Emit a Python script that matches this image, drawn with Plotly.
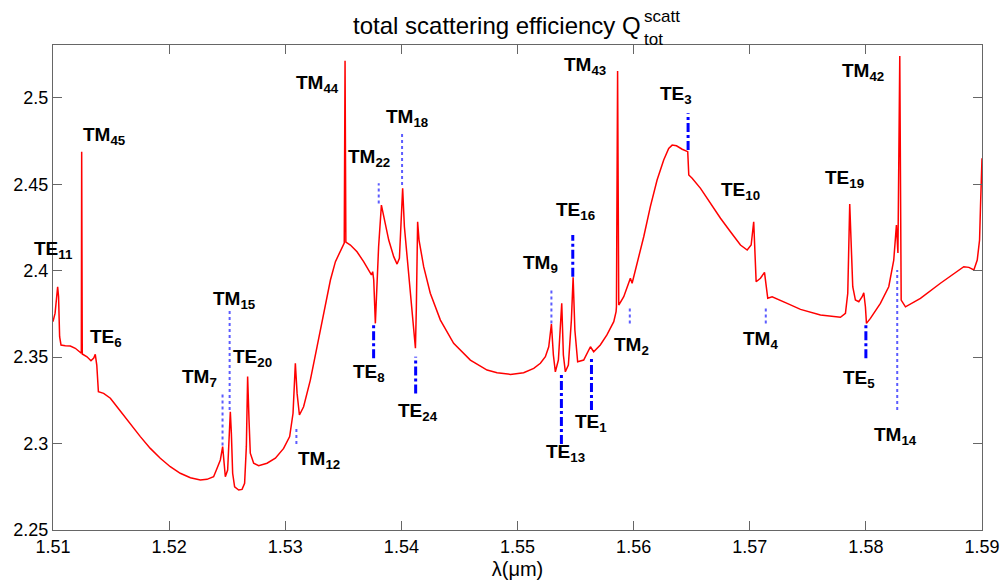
import plotly.graph_objects as go

# ---- curve: total scattering efficiency vs wavelength (um) ----
wavelength = [
    1.51000, 1.51018, 1.51040, 1.51048, 1.51057, 1.51069, 1.51106, 1.51149, 1.51192, 1.51244,
    1.51247, 1.51252, 1.51293, 1.51327, 1.51351, 1.51364, 1.51377, 1.51391, 1.51436, 1.51494,
    1.51551, 1.51637, 1.51752, 1.51838, 1.51924, 1.52010, 1.52096, 1.52183, 1.52269, 1.52326,
    1.52383, 1.52413, 1.52441, 1.52461, 1.52473, 1.52484, 1.52504, 1.52519, 1.52527, 1.52536,
    1.52547, 1.52564, 1.52599, 1.52628, 1.52650, 1.52665, 1.52676, 1.52688, 1.52699, 1.52728,
    1.52771, 1.52843, 1.52915, 1.52986, 1.53038, 1.53067, 1.53087, 1.53102, 1.53122, 1.53158,
    1.53216, 1.53274, 1.53331, 1.53389, 1.53432, 1.53475, 1.53508, 1.53515, 1.53522, 1.53561,
    1.53618, 1.53675, 1.53718, 1.53742, 1.53753, 1.53762, 1.53776, 1.53804, 1.53828, 1.53847,
    1.53891, 1.53934, 1.53963, 1.53983, 1.53997, 1.54011, 1.54026, 1.54049, 1.54077, 1.54106,
    1.54121, 1.54129, 1.54140, 1.54152, 1.54192, 1.54249, 1.54336, 1.54450, 1.54594, 1.54738,
    1.54824, 1.54939, 1.55053, 1.55140, 1.55197, 1.55240, 1.55269, 1.55292, 1.55309, 1.55326,
    1.55352, 1.55381, 1.55395, 1.55412, 1.55438, 1.55464, 1.55479, 1.55494, 1.55518, 1.55570,
    1.55628, 1.55656, 1.55713, 1.55770, 1.55829, 1.55849, 1.55852, 1.55862, 1.55872, 1.55915,
    1.55958, 1.55972, 1.55987, 1.56030, 1.56087, 1.56144, 1.56202, 1.56259, 1.56302, 1.56332,
    1.56369, 1.56418, 1.56455, 1.56466, 1.56475, 1.56504, 1.56576, 1.56662, 1.56748, 1.56834,
    1.56920, 1.56978, 1.57012, 1.57034, 1.57043, 1.57055, 1.57092, 1.57127, 1.57155, 1.57193,
    1.57322, 1.57437, 1.57609, 1.57781, 1.57824, 1.57844, 1.57861, 1.57876, 1.57887, 1.57910,
    1.57939, 1.57968, 1.57982, 1.57996, 1.58005, 1.58039, 1.58125, 1.58197, 1.58240, 1.58263,
    1.58276, 1.58292, 1.58304, 1.58341, 1.58470, 1.58642, 1.58786, 1.58843, 1.58887, 1.58930,
    1.58959, 1.58979, 1.58987, 1.59000,
]
q_scatt = [
    2.3705, 2.3754, 2.3907, 2.3849, 2.3618, 2.3570, 2.3566, 2.3564, 2.3551, 2.3522,
    2.4688, 2.3518, 2.3502, 2.3479, 2.3495, 2.3516, 2.3454, 2.3300, 2.3290, 2.3262,
    2.3213, 2.3136, 2.3040, 2.2972, 2.2915, 2.2866, 2.2828, 2.2802, 2.2789, 2.2793,
    2.2808, 2.2857, 2.2905, 2.2982, 2.2886, 2.2808, 2.2847, 2.3059, 2.3184, 2.3059,
    2.2828, 2.2750, 2.2731, 2.2735, 2.2770, 2.2982, 2.3387, 2.3136, 2.2944, 2.2886,
    2.2872, 2.2886, 2.2915, 2.2972, 2.3040, 2.3175, 2.3464, 2.3290, 2.3165, 2.3213,
    2.3367, 2.3560, 2.3753, 2.3946, 2.4052, 2.4119, 2.4160, 2.5214, 2.4165, 2.4148,
    2.4109, 2.4052, 2.4004, 2.3975, 2.3994, 2.3946, 2.3695, 2.4138, 2.4379, 2.4312,
    2.4177, 2.4081, 2.4038, 2.4071, 2.4254, 2.4476, 2.4254, 2.4081, 2.3888, 2.3657,
    2.3551, 2.3791, 2.4283, 2.4177, 2.4023, 2.3869, 2.3714, 2.3580, 2.3483, 2.3425,
    2.3410, 2.3400, 2.3410, 2.3435, 2.3464, 2.3502, 2.3560, 2.3691, 2.3512, 2.3415,
    2.3483, 2.3811, 2.3512, 2.3415, 2.3454, 2.3714, 2.3961, 2.3657, 2.3473, 2.3483,
    2.3560, 2.3531, 2.3570, 2.3628, 2.3705, 2.3763, 2.3791, 2.5154, 2.3801, 2.3849,
    2.3936, 2.3956, 2.3927, 2.4042, 2.4196, 2.4370, 2.4524, 2.4640, 2.4707, 2.4726,
    2.4722, 2.4702, 2.4694, 2.4688, 2.4553, 2.4534, 2.4476, 2.4389, 2.4303, 2.4225,
    2.4148, 2.4119, 2.4148, 2.4283, 2.4100, 2.3936, 2.3956, 2.3990, 2.3840, 2.3849,
    2.3811, 2.3776, 2.3743, 2.3730, 2.3753, 2.3869, 2.4385, 2.4080, 2.3907, 2.3830,
    2.3820, 2.3849, 2.3872, 2.3791, 2.3695, 2.3724, 2.3811, 2.3907, 2.4061, 2.4264,
    2.4102, 2.5241, 2.3830, 2.3791, 2.3840, 2.3927, 2.3994, 2.4023, 2.4019, 2.4004,
    2.4061, 2.4177, 2.4370, 2.4650,
]

# ---- TM resonance markers (dotted) ----
tm_names = ["TM7", "TM15", "TM12", "TM22", "TM18", "TM9", "TM2", "TM4", "TM14"]
tm_x = [1.52460, 1.52521, 1.53096, 1.53805, 1.54006, 1.55292, 1.55967, 1.57138, 1.58270]
tm_y0 = [2.2988, 2.3194, 2.2997, 2.4389, 2.4495, 2.3695, 2.3695, 2.3695, 2.3194]
tm_y1 = [2.3295, 2.3782, 2.3097, 2.4505, 2.4794, 2.3898, 2.3791, 2.3791, 2.4004]

# ---- TE resonance markers (dash-dot) ----
te_names = ["TE8", "TE24", "TE13", "TE1", "TE16", "TE3", "TE5"]
te_x = [1.53761, 1.54123, 1.55378, 1.55637, 1.55476, 1.56469, 1.58000]
te_y0 = [2.3493, 2.3290, 2.2997, 2.3194, 2.3965, 2.4698, 2.3493]
te_y1 = [2.3686, 2.3502, 2.3400, 2.3502, 2.4206, 2.4910, 2.3686]

# ---- mode labels: mode letters, mode index, anchor wavelength, anchor Q ----
label_mode = ["TE", "TM", "TM", "TM", "TE", "TE", "TM", "TM", "TM", "TM", "TE", "TE", "TE",
              "TE", "TM", "TM", "TE", "TM", "TE", "TE", "TM", "TE", "TM", "TE", "TM"]
label_index = ["11", "45", "44", "15", "6", "20", "7", "12", "22", "18", "8", "24", "13",
               "1", "2", "9", "16", "43", "3", "10", "4", "19", "42", "5", "14"]
label_x = [1.51001, 1.51442, 1.53277, 1.52562, 1.51459, 1.52717, 1.52260, 1.53294, 1.53724,
           1.54051, 1.53724, 1.54146, 1.55412, 1.55636, 1.55980, 1.55197, 1.55499, 1.55577,
           1.56369, 1.56920, 1.57093, 1.57816, 1.57979, 1.57945, 1.58255]
label_y = [2.4119, 2.4779, 2.5079, 2.3830, 2.3610, 2.3495, 2.3379, 2.2905, 2.4651,
           2.4883, 2.3408, 2.3182, 2.2945, 2.3119, 2.3564, 2.4038, 2.4345, 2.5183,
           2.5016, 2.4460, 2.3599, 2.4530, 2.5149, 2.3373, 2.3044]

x_ticks = [1.51, 1.52, 1.53, 1.54, 1.55, 1.56, 1.57, 1.58, 1.59]
x_ticktext = ["1.51", "1.52", "1.53", "1.54", "1.55", "1.56", "1.57", "1.58", "1.59"]
y_ticks = [2.25, 2.30, 2.35, 2.40, 2.45, 2.50]
y_ticktext = ["2.25", "2.3", "2.35", "2.4", "2.45", "2.5"]

FONT = "Liberation Sans, Arial, Helvetica, sans-serif"


def segments(xs, y0s, y1s):
    px, py = [], []
    for x, a, b in zip(xs, y0s, y1s):
        px += [x, x, None]
        py += [a, b, None]
    return px, py


fig = go.Figure()

tmx, tmy = segments(tm_x, tm_y0, tm_y1)
fig.add_trace(go.Scatter(x=tmx, y=tmy, mode="lines",
                         line=dict(color="#5c5cff", width=2, dash="dot"),
                         hoverinfo="skip", showlegend=False))
tex, tey = segments(te_x, te_y0, te_y1)
fig.add_trace(go.Scatter(x=tex, y=tey, mode="lines",
                         line=dict(color="#0000ff", width=3, dash="dashdot"),
                         hoverinfo="skip", showlegend=False))

fig.add_trace(go.Scatter(x=wavelength, y=q_scatt, mode="lines",
                         line=dict(color="#ff0000", width=1.5),
                         showlegend=False))

for m, i, x, y in zip(label_mode, label_index, label_x, label_y):
    fig.add_annotation(
        x=x, y=y, xref="x", yref="y", showarrow=False,
        xanchor="center", yanchor="middle",
        text=f"<b>{m}<sub>{i}</sub></b>",
        font=dict(family=FONT, size=19, color="black"),
    )

# title with stacked super/subscript
fig.add_annotation(x=0.478, y=1.041, xref="paper", yref="paper", showarrow=False,
                   xanchor="center", yanchor="middle",
                   text="total scattering efficiency Q",
                   font=dict(family=FONT, size=24, color="black"))
fig.add_annotation(x=0.634, y=1.058, xref="paper", yref="paper", showarrow=False,
                   xanchor="left", yanchor="middle", text="scatt",
                   font=dict(family=FONT, size=17, color="black"))
fig.add_annotation(x=0.634, y=1.012, xref="paper", yref="paper", showarrow=False,
                   xanchor="left", yanchor="middle", text="tot",
                   font=dict(family=FONT, size=17, color="black"))

axis_common = dict(
    showgrid=False, zeroline=False, showline=True, linecolor="#666666", linewidth=1,
    mirror="ticks", ticks="inside", ticklen=9, tickcolor="#666666", automargin=False,
    tickfont=dict(family=FONT, size=18, color="black"),
)

fig.update_xaxes(range=[1.51, 1.59], tickvals=x_ticks, ticktext=x_ticktext,
                 title=dict(text="λ(μm)", font=dict(family=FONT, size=20, color="black"),
                            standoff=6),
                 **axis_common)
fig.update_yaxes(range=[2.25, 2.5305], tickvals=y_ticks, ticktext=y_ticktext,
                 **axis_common)

fig.update_layout(
    width=1003, height=586,
    margin=dict(l=53, r=21, t=45, b=56),
    plot_bgcolor="white", paper_bgcolor="white",
    font=dict(family=FONT),
)

fig.write_html("out.html", config={"displayModeBar": False},
               post_script="document.body.style.margin='0';")
